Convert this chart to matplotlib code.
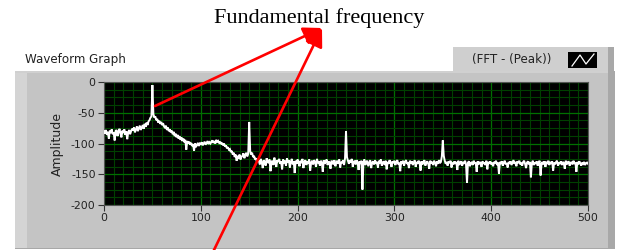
import numpy as np
import matplotlib
matplotlib.use("Agg")
import matplotlib.pyplot as plt
from matplotlib.patches import Rectangle, FancyArrowPatch
from matplotlib.lines import Line2D
from matplotlib.ticker import MultipleLocator

plt.rcParams['axes.unicode_minus'] = False

# ---------------- data ----------------
freq_start, freq_stop = 0, 500
amp_0_49 = [-80, -84, -78, -86, -81, -92, -79, -83, -77, -85,
            -82, -95, -80, -78, -88, -81, -76, -84, -90, -79,
            -83, -77, -86, -80, -93, -82, -78, -85, -80, -76,
            -79, -74, -82, -77, -72, -80, -75, -71, -78, -74,
            -70, -76, -68, -73, -66, -70, -64, -62, -58, -56]
amp_50_99 = [-5, -52, -58, -56, -62, -60, -66, -63, -68, -65,
             -70, -67, -72, -75, -71, -78, -74, -80, -77, -82,
             -79, -85, -81, -88, -84, -90, -86, -92, -88, -94,
             -90, -96, -92, -98, -94, -110, -96, -100, -97, -102,
             -99, -104, -101, -112, -100, -106, -102, -99, -104, -100]
amp_100_159 = [-101, -98, -103, -100, -97, -102, -99, -96, -101, -98,
               -100, -97, -95, -99, -96, -100, -94, -98, -96, -99,
               -97, -101, -99, -103, -100, -105, -103, -108, -106, -110,
               -109, -114, -112, -118, -115, -122, -118, -128, -120, -125,
               -118, -126, -122, -120, -116, -124, -119, -115, -121, -117,
               -65, -112, -118, -115, -122, -120, -126, -124, -130, -127]
amp_160_249 = [-128, -134, -125, -131, -140, -127, -130, -136, -124, -129,
               -132, -126, -145, -130, -128, -135, -123, -131, -138, -127,
               -130, -125, -133, -129, -142, -126, -132, -128, -136, -124,
               -131, -127, -139, -130, -125, -134, -129, -148, -128, -133,
               -126, -131, -137, -128, -132, -125, -140, -130, -127, -135,
               -129, -133, -126, -144, -131, -128, -134, -127, -130, -138,
               -125, -132, -129, -136, -128, -131, -146, -127, -133, -130,
               -126, -135, -129, -132, -141, -128, -130, -134, -127, -137,
               -131, -128, -133, -126, -139, -130, -132, -127, -135, -124]
amp_250_349 = [-80, -122, -128, -133, -127, -131, -125, -138, -130, -128,
               -134, -127, -131, -143, -129, -133, -128, -175, -131, -126,
               -135, -130, -128, -137, -132, -127, -140, -131, -129, -134,
               -127, -133, -130, -139, -128, -132, -126, -136, -131, -129,
               -135, -128, -142, -130, -133, -127, -131, -138, -129, -132,
               -128, -135, -130, -127, -134, -131, -145, -129, -133, -128,
               -136, -130, -127, -133, -131, -140, -128, -132, -129, -135,
               -131, -127, -138, -130, -133, -128, -131, -144, -129, -134,
               -130, -127, -136, -131, -129, -133, -141, -128, -132, -130,
               -135, -128, -131, -137, -129, -133, -127, -132, -130, -121]
amp_350_500 = [-95, -120, -128, -133, -130, -136, -129, -132, -128, -139,
               -131, -134, -129, -133, -130, -143, -128, -135, -131, -129,
               -136, -130, -133, -128, -134, -164, -131, -129, -137, -132,
               -130, -135, -128, -133, -131, -146, -129, -134, -130, -132,
               -138, -129, -133, -131, -135, -128, -142, -130, -133, -129,
               -134, -131, -137, -130, -132, -128, -135, -131, -149, -130,
               -133, -129, -136, -131, -128, -134, -132, -139, -130, -133,
               -129, -135, -131, -127, -133, -130, -137, -129, -132, -128,
               -134, -131, -136, -130, -128, -133, -140, -131, -129, -134,
               -130, -155, -132, -128, -135, -131, -133, -129, -136, -131,
               -128, -152, -133, -130, -134, -129, -138, -131, -132, -128,
               -135, -130, -133, -129, -144, -131, -134, -130, -128, -136,
               -131, -133, -129, -135, -130, -132, -141, -128, -134, -131,
               -129, -136, -132, -130, -134, -128, -133, -131, -146, -130,
               -134, -129, -132, -136, -131, -133, -130, -135, -132, -131,
               -133]
amplitude = amp_0_49 + amp_50_99 + amp_100_159 + amp_160_249 + amp_250_349 + amp_350_500
freq = np.arange(freq_start, freq_start + len(amplitude))

x_ticks = [0, 100, 200, 300, 400, 500]
y_ticks = [0, -50, -100, -150, -200]
title_text = "Fundamental frequency"
panel_label = "Waveform Graph"
legend_label = "(FFT - (Peak))"
y_label = "Amplitude"

# ---------------- figure ----------------
W, H = 619, 250
fig = plt.figure(figsize=(W / 100, H / 100), dpi=100)
fig.patch.set_facecolor("white")

def fx(x):
    return x / W

def fy(y):
    return 1 - y / H

def rect(x0, y0, x1, y1, color, z=0):
    fig.patches.append(Rectangle((fx(x0), fy(y1)), fx(x1) - fx(x0), fy(y0) - fy(y1),
                                 transform=fig.transFigure, facecolor=color,
                                 edgecolor="none", zorder=z))

# panel
rect(15, 71, 615, 249, "#a8a8a8", z=0)
rect(15, 71, 608, 248, "#c4c4c4", z=0.1)
rect(15, 71, 27, 248, "#d4d4d4", z=0.2)
rect(15, 71, 608, 73, "#d0d0d0", z=0.2)
# legend box
rect(453, 47, 614, 71, "#a8a8a8", z=0.3)
rect(453, 47, 608, 71, "#cfcfcf", z=0.4)
rect(568, 52, 597, 68, "black", z=0.5)
fig.lines.append(Line2D([fx(572), fx(580), fx(586), fx(594)],
                        [fy(66), fy(55), fy(64), fy(54)],
                        transform=fig.transFigure, color="white", lw=0.9, zorder=0.6))

fig.text(fx(25), fy(59), panel_label, ha="left", va="center", fontsize=8.6,
         family="DejaVu Sans", color="#222222")
fig.text(fx(512), fy(59), legend_label, ha="center", va="center", fontsize=8.6,
         family="DejaVu Sans", color="#222222")
fig.text(fx(319), fy(18), title_text, ha="center", va="center", fontsize=16,
         family="Liberation Serif", color="black")

# axes
ax = fig.add_axes([fx(104), fy(205), fx(588) - fx(104), fy(82) - fy(205)])
ax.set_facecolor("black")
ax.set_zorder(1)
ax.plot(freq, amplitude, color="white", lw=1.4, zorder=3, solid_joinstyle="miter")
ax.set_xlim(0, 500)
ax.set_ylim(-200, 0)
ax.set_xticks(x_ticks)
ax.set_yticks(y_ticks)
ax.set_xticklabels([str(v) for v in x_ticks])
ax.set_yticklabels([str(v) for v in y_ticks])
ax.xaxis.set_minor_locator(MultipleLocator(10))
ax.yaxis.set_minor_locator(MultipleLocator(12.5))
ax.grid(which="minor", color="#004000", lw=0.8)
ax.grid(which="major", color="#007000", lw=0.9)
ax.set_axisbelow(True)
ax.tick_params(which="minor", length=0)
ax.tick_params(which="major", length=4, width=0.8, color="#333333",
               labelsize=7.8, labelcolor="#222222", pad=2)
for s in ax.spines.values():
    s.set_color("#555555")
    s.set_linewidth(0.8)
ax.set_ylabel(y_label, fontsize=9, color="#222222", labelpad=5)

# red annotation arrows
for start in [(155, 106), (213, 252)]:
    arr = FancyArrowPatch((fx(start[0]), fy(start[1])), (fx(322), fy(28)),
                          transform=fig.transFigure,
                          arrowstyle="-|>,head_length=1.1,head_width=0.55",
                          mutation_scale=10, color="#ff0000", lw=1.9, zorder=10,
                          shrinkA=0, shrinkB=0)
    fig.patches.append(arr)

fig.savefig("out.png", dpi=100, facecolor="white")
